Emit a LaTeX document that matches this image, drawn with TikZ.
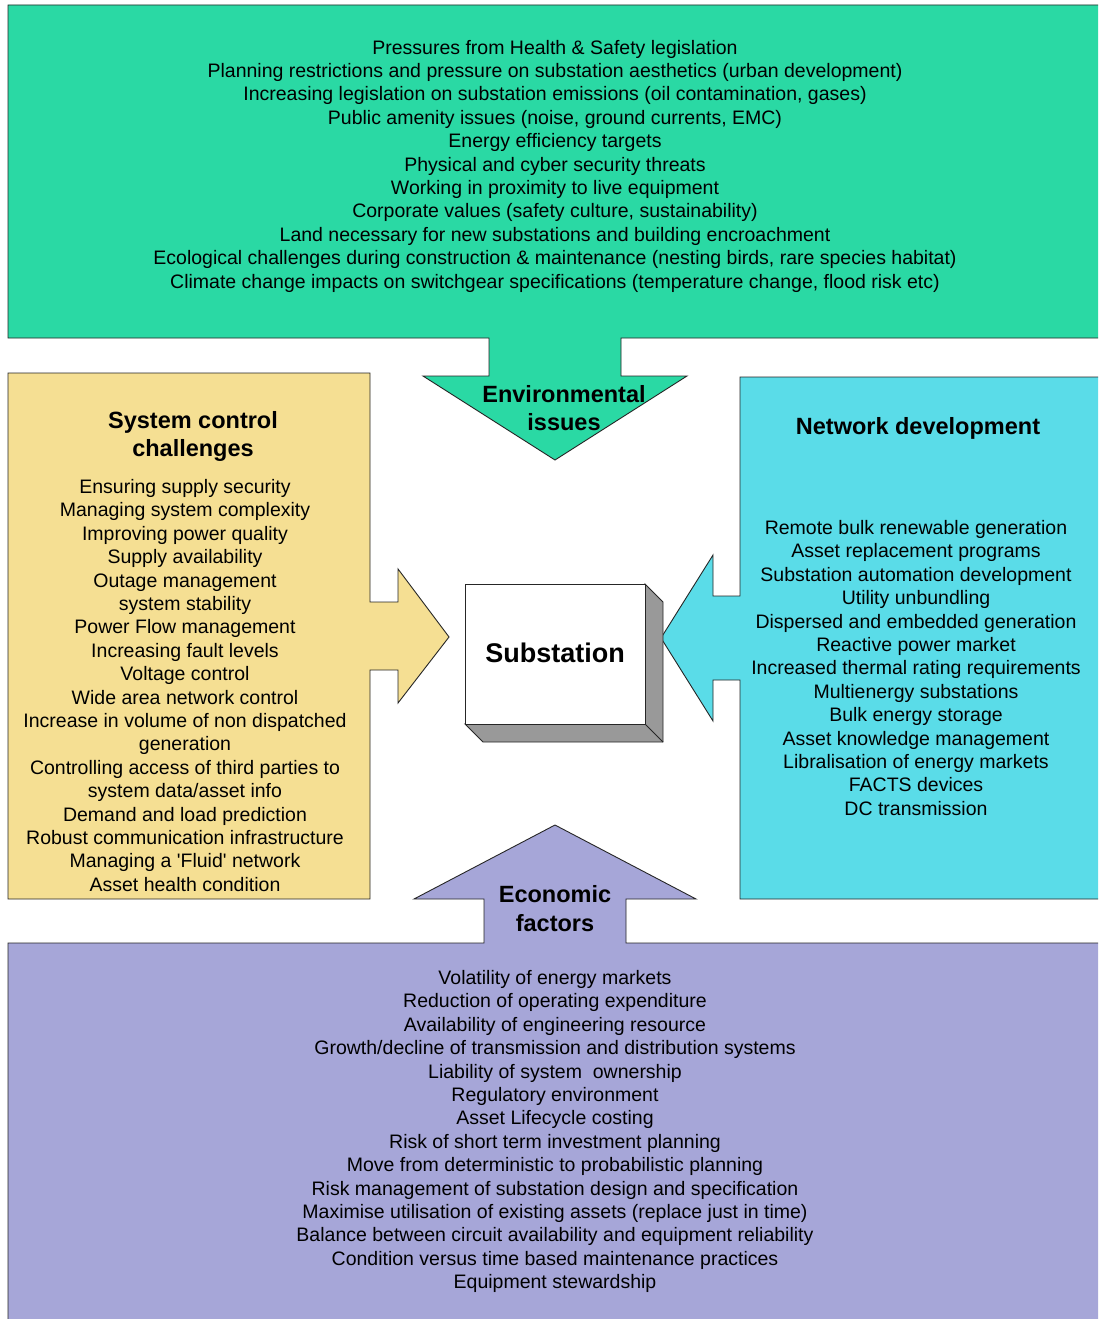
\documentclass[tikz,border=0pt]{standalone}
\usepackage{fontspec}
\setmainfont{Liberation Sans}
\definecolor{envgreen}{RGB}{42,217,164}
\definecolor{sysyellow}{RGB}{245,223,147}
\definecolor{netblue}{RGB}{90,220,232}
\definecolor{ecopurple}{RGB}{166,166,216}
\definecolor{cubegray}{RGB}{153,153,153}
\tikzset{
  panel/.style={draw=black!85, line width=0.9pt, line join=miter},
  items/.style={align=center, inner sep=0pt, font=\fontsize{19.5}{23.4}\selectfont},
  heading/.style={align=center, inner sep=0pt, font=\bfseries\fontsize{23.5}{28.5}\selectfont},
}
\begin{document}
\begin{tikzpicture}[x=1pt,y=-1pt]
\useasboundingbox (0,0) rectangle (1098,1319);
\fill[white] (0,0) rectangle (1098,1319);
\begin{scope}
\clip (0,0) rectangle (1098,1319);
% environmental panel + arrow
\draw[panel, fill=envgreen] (8,5) -- (1104,5) -- (1104,338) -- (621,338) -- (621,376) -- (687,376)
  -- (555,460) -- (423,376) -- (489,376) -- (489,338) -- (8,338) -- cycle;
% system control panel + arrow
\draw[panel, fill=sysyellow] (8,373) -- (370,373) -- (370,602) -- (398,602) -- (398,569) -- (449,637)
  -- (398,703) -- (398,670) -- (370,670) -- (370,899) -- (8,899) -- cycle;
% network development panel + arrow
\draw[panel, fill=netblue] (740,377) -- (1104,377) -- (1104,899) -- (740,899) -- (740,680) -- (713,680)
  -- (713,721) -- (661,638) -- (713,555) -- (713,596) -- (740,596) -- cycle;
% economic panel + arrow
\draw[panel, fill=ecopurple] (8,943) -- (484,943) -- (484,899) -- (414,899) -- (555,825) -- (696,899)
  -- (626,899) -- (626,943) -- (1104,943) -- (1104,1325) -- (8,1325) -- cycle;
\end{scope}
% substation cube
\draw[panel, fill=cubegray] (645,584) -- (663,602) -- (663,742) -- (483,742) -- (465,724) -- (645,724) -- cycle;
\draw[panel] (645,724) -- (663,742);
\draw[panel, fill=white] (465,584) rectangle (645,724);
\node[font=\bfseries\fontsize{27}{32}\selectfont, inner sep=0pt] (sub) at (555,652.5) {Substation};

\node[items] (envlist) at (555,166) {Pressures from Health \& Safety legislation\\
Planning restrictions and pressure on substation aesthetics (urban development)\\
Increasing legislation on substation emissions (oil contamination, gases)\\
Public amenity issues (noise, ground currents, EMC)\\
Energy efficiency targets\\
Physical and cyber security threats\\
Working in proximity to live equipment\\
Corporate values (safety culture, sustainability)\\
Land necessary for new substations and building encroachment\\
Ecological challenges during construction \& maintenance (nesting birds, rare species habitat)\\
Climate change impacts on switchgear specifications (temperature change, flood risk etc)};
\node[heading] (envhead) at (564,408) {Environmental\\issues};

\node[heading] (syshead) at (193,436.5) {System control\\challenges};
\node[items] (syslist) at (185,685.5) {Ensuring supply security\\
Managing system complexity\\
Improving power quality\\
Supply availability\\
Outage management\\
system stability\\
Power Flow management\\
Increasing fault levels\\
Voltage control\\
Wide area network control\\
Increase in volume of non dispatched\\
generation\\
Controlling access of third parties to\\
system data/asset info\\
Demand and load prediction\\
Robust communication infrastructure\\
Managing a \textquotesingle Fluid\textquotesingle{} network\\
Asset health condition};

\node[heading] (nethead) at (918,428) {Network development};
\node[items] (netlist) at (916,668) {Remote bulk renewable generation\\
Asset replacement programs\\
Substation automation development\\
Utility unbundling\\
Dispersed and embedded generation\\
Reactive power market\\
Increased thermal rating requirements\\
Multienergy substations\\
Bulk energy storage\\
Asset knowledge management\\
Libralisation of energy markets\\
FACTS devices\\
DC transmission};

\node[heading] (ecohead) at (555,908.5) {Economic\\factors};
\node[items] (ecolist) at (555,1131.5) {Volatility of energy markets\\
Reduction of operating expenditure\\
Availability of engineering resource\\
Growth/decline of transmission and distribution systems\\
Liability of system\ \ ownership\\
Regulatory environment\\
Asset Lifecycle costing\\
Risk of short term investment planning\\
Move from deterministic to probabilistic planning\\
Risk management of substation design and specification\\
Maximise utilisation of existing assets (replace just in time)\\
Balance between circuit availability and equipment reliability\\
Condition versus time based maintenance practices\\
Equipment stewardship};
\end{tikzpicture}
\end{document}
